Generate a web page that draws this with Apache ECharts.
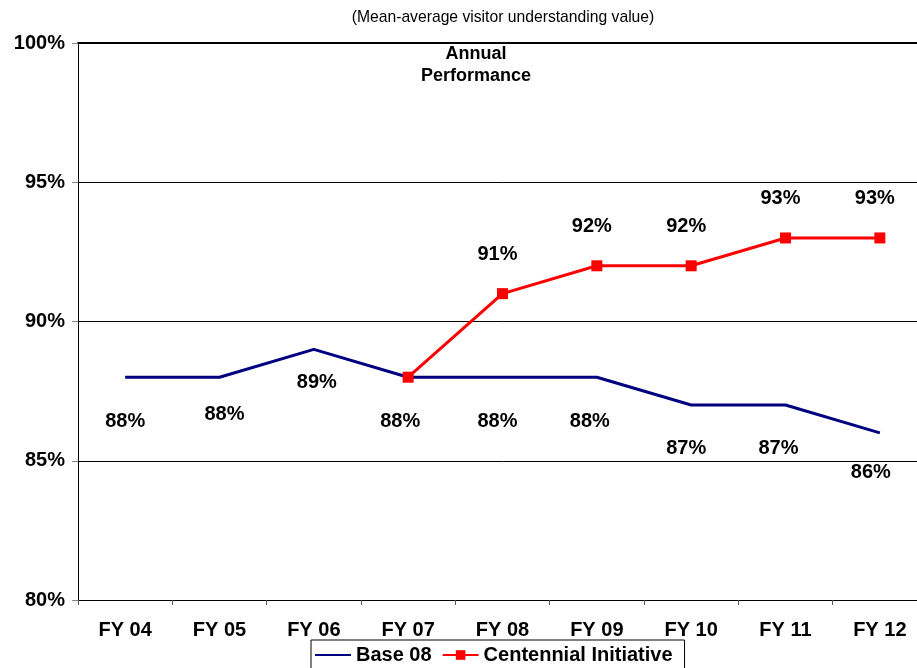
<!DOCTYPE html>
<html>
<head>
<meta charset="utf-8">
<script src="https://cdn.jsdelivr.net/npm/echarts@6/dist/echarts.min.js"></script>
<style>
  html, body { margin: 0; padding: 0; background: #fff; overflow: hidden; width: 917px; height: 668px; }
  #chart { width: 930px; height: 668px; }
</style>
</head>
<body>
<div id="chart"></div>
<script>
// Fiscal years on the category axis
const years = ['FY 04', 'FY 05', 'FY 06', 'FY 07', 'FY 08', 'FY 09', 'FY 10', 'FY 11', 'FY 12'];
// Base 08 trend (percent)
const base08 = [88, 88, 89, 88, 88, 88, 87, 87, 86];
// Centennial Initiative targets (percent), starting at FY 07
const centennial = [null, null, null, 88, 91, 92, 92, 93, 93];
// Which Centennial points carry a value label
const centennialLabelled = [false, false, false, false, true, true, true, true, true];
// Y axis range and step
const yMin = 80, yMax = 100, yStep = 5;

// Label nudges (pixels) relative to each point
const baseLabelShift = [[0, 44], [5, 37], [3, 33], [-8, 44], [-5, 44], [-7, 44], [-5, 43], [-7, 43], [-9, 40]];
const centLabelShift = [-5, -39];

const FONT = '"Liberation Sans", Arial, sans-serif';
const labelStyle = { fontFamily: FONT, fontWeight: 'bold', fontSize: 20, color: '#000' };

const chart = echarts.init(document.getElementById('chart'), null, { renderer: 'canvas' });

chart.setOption({
  animation: false,
  backgroundColor: '#fff',
  graphic: [
    {
      type: 'text', x: 503, y: 10,
      style: { text: '(Mean-average visitor understanding value)', font: '15.7px ' + FONT, fill: '#000', textAlign: 'center' }
    },
    {
      type: 'text', x: 476, y: 43,
      style: { text: 'Annual\nPerformance', font: 'bold 18px ' + FONT, fill: '#000', textAlign: 'center', lineHeight: 22 }
    }
  ],
  grid: { left: 78, top: 43, right: 3, bottom: 68, containLabel: false },
  legend: {
    bottom: -2,
    left: 311,
    itemWidth: 36,
    itemHeight: 12,
    itemGap: 10,
    padding: [5, 12, 5, 4],
    borderColor: '#000',
    borderWidth: 1,
    textStyle: { fontFamily: FONT, fontWeight: 'bold', fontSize: 20, color: '#000' },
    data: [
      { name: 'Base 08', icon: 'path://M0,5 L40,5 L40,7 L0,7 Z' },
      { name: 'Centennial Initiative' }
    ]
  },
  xAxis: [
    {
      type: 'category',
      data: years,
      boundaryGap: true,
      axisLine: { lineStyle: { color: '#000', width: 1 } },
      axisTick: { show: true, length: 5, inside: false, lineStyle: { color: '#555' } },
      axisLabel: { fontFamily: FONT, fontWeight: 'bold', fontSize: 20, color: '#000', margin: 20 }
    },
    {
      // heavy top border of the plot frame
      type: 'category',
      data: years,
      position: 'top',
      axisLine: { lineStyle: { color: '#000', width: 2 } },
      axisTick: { show: false },
      axisLabel: { show: false }
    }
  ],
  yAxis: {
    type: 'value',
    min: yMin, max: yMax, interval: yStep,
    axisLine: { show: true, lineStyle: { color: '#000', width: 1 } },
    axisTick: { show: true, length: 6, lineStyle: { color: '#888' } },
    splitLine: { show: true, lineStyle: { color: '#000', width: 1 } },
    axisLabel: {
      fontFamily: FONT, fontWeight: 'bold', fontSize: 20, color: '#000', margin: 13,
      formatter: v => v + '%'
    }
  },
  series: [
    {
      name: 'Base 08',
      type: 'line',
      data: base08.map((v, i) => ({
        value: v,
        label: { show: true, position: 'inside', offset: baseLabelShift[i] }
      })),
      symbol: 'circle',
      symbolSize: 0.1,
      showSymbol: true,
      lineStyle: { color: '#000080', width: 3 },
      itemStyle: { color: '#000080' },
      label: Object.assign({ show: true, formatter: p => p.value + '%' }, labelStyle),
      z: 3
    },
    {
      name: 'Centennial Initiative',
      type: 'line',
      data: centennial.map((v, i) => ({
        value: v,
        label: { show: centennialLabelled[i], position: 'inside', offset: centLabelShift }
      })),
      symbol: 'rect',
      symbolSize: 11,
      lineStyle: { color: '#ff0000', width: 3 },
      itemStyle: { color: '#ff0000' },
      label: Object.assign({ formatter: p => p.value + '%' }, labelStyle),
      z: 4
    }
  ]
});
</script>
</body>
</html>
